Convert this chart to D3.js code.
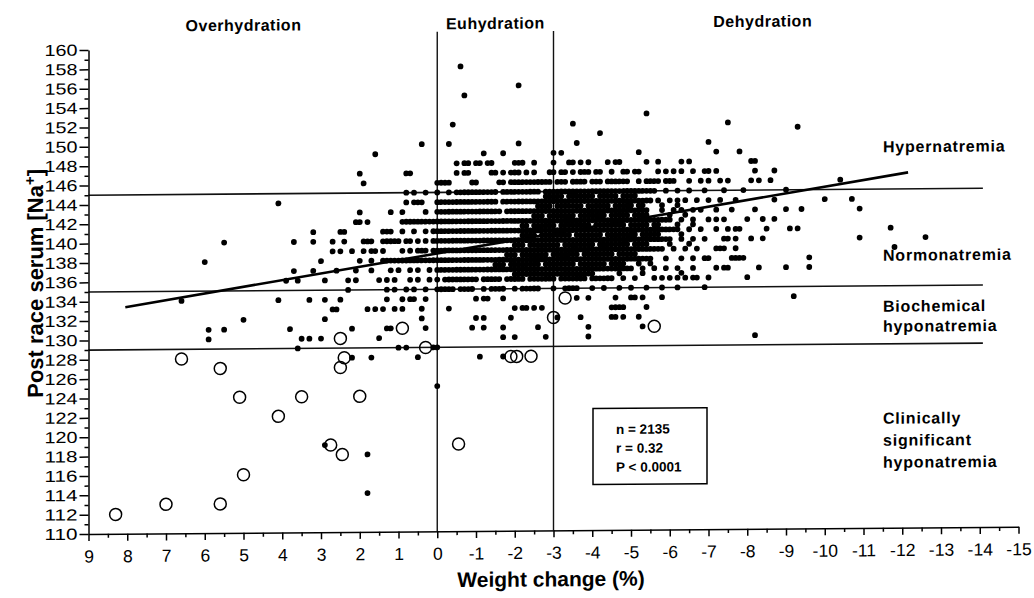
<!DOCTYPE html>
<html>
<head>
<meta charset="utf-8">
<script src="https://cdn.jsdelivr.net/npm/d3@7"></script>
<style>
  body { margin: 0; background: #fff; }
  svg { font-family: "Liberation Sans", Arial, Helvetica, sans-serif; }
</style>
</head>
<body>
<div id="chart"></div>
<script>
// ---- data ----
// x = weight change (%), y = post race serum [Na+]
const xTicks = [9, 8, 7, 6, 5, 4, 3, 2, 1, 0, -1, -2, -3, -4, -5, -6, -7, -8, -9, -10, -11, -12, -13, -14, -15];
const yTicks = [110, 112, 114, 116, 118, 120, 122, 124, 126, 128, 130, 132, 134, 136, 138, 140, 142, 144, 146, 148, 150, 152, 154, 156, 158, 160];

const zoneLabels = ["Overhydration", "Euhydration", "Dehydration"];
const zoneCenters = [5, -1.5, -8.4];
const hydrationLimits = [0, -3];        // vertical lines
const sodiumLimits = [145, 135, 129];   // horizontal lines

// regression line end points [weight, Na]
const fitLine = [[8.05, 133.4], [-12.15, 146.7]];

// runners with clinically significant hyponatremia (open circles)
const hypoWeight = [6.6, 5.6, 5.1, 3.5, 2.0, 2.5, 2.4, 2.5, 0.9, 0.3, -1.9, -2.05, -2.42, -3.3, -3.0, -5.6, 8.3, 7.0, 5.6, 5.0, 4.1, 2.75, 2.45, -0.55];
const hypoNa = [128, 127, 124, 124, 124, 130, 128, 127, 131, 129, 128, 128, 128, 134, 132, 131, 112, 113, 113, 116, 122, 119, 118, 119];

// filled dots: [Na, weight change x 10]
const dotRows = [
  [158, [-6]],
  [156, [-21]],
  [155, [-7]],
  [153, [-54]],
  [152, [-4, -35, -75]],
  [151.5, [-93]],
  [151, [-42]],
  [150, [4, -3, -21, -36, -70]],
  [149, [16, -12, -17, -30, -32, -52, -72, -78]],
  [148, [-5, -7, -8, -10, -11, -13, -14, -20, -21, -22, -25, -30, -34, -35, -37, -39, -44, -46, -47, -54, -57, -63, -65, -81, -82]],
  [147, [20, 8, 7, -5, -7, -8, -14, -15, -17, -19, -20, -21, -23, -25, -29, -30, -32, -33, -35, -37, -38, -39, -41, -42, -45, -48, -49, -51, -52, -57, -59, -61, -63, -66, -69, -70, -72, -82, -87]],
  [146, [19, 0, -1, -2, -3, -9, -10, -16, -17, -19, -20, -21, -22, -23, -24, -25, -26, -27, -28, -29, -31, -32, -33, -35, -36, -37, -38, -40, -41, -42, -44, -45, -46, -47, -48, -49, -52, -54, -55, -56, -57, -59, -60, -61, -65, -68, -70, -73, -75, -81, -83, -86, -104]],
  [145, [8, 6, 3, 0, -3, -5, -6, -7, -8, -9, -10, -11, -12, -13, -14, -15, -17, -18, -19, -20, -21, -22, -23, -24, -25, -26, -28, -29, -30, -31, -32, -33, -34, -35, -36, -37, -38, -39, -40, -41, -42, -43, -44, -45, -46, -47, -48, -49, -50, -51, -52, -53, -54, -55, -56, -59, -62, -65, -69, -74, -79, -90]],
  [144.5, [-28, -29, -30, -31, -32, -34, -35, -36, -37, -38, -39, -40, -42, -43, -44, -45, -46, -48, -49, -50, -51]],
  [144, [41, 8, 6, 5, 4, 0, -1, -2, -3, -4, -5, -6, -7, -8, -9, -10, -11, -12, -13, -14, -15, -17, -18, -19, -20, -21, -22, -23, -24, -25, -26, -27, -28, -29, -30, -31, -32, -33, -34, -35, -36, -37, -38, -39, -40, -41, -42, -43, -44, -45, -46, -47, -48, -49, -50, -51, -52, -53, -54, -55, -57, -60, -62, -64, -67, -70, -73, -77, -87, -100, -107]],
  [143.5, [-26, -27, -28, -29, -31, -32, -33, -34, -35, -36, -37, -39, -40, -41, -42, -43, -44, -46, -47, -48, -49, -50, -52, -53, -58, -62]],
  [143, [20, 12, 9, 3, 0, -1, -2, -3, -4, -5, -6, -7, -8, -9, -10, -11, -12, -13, -14, -15, -16, -18, -19, -20, -21, -22, -23, -24, -25, -26, -27, -28, -29, -30, -31, -32, -33, -34, -35, -36, -37, -38, -39, -40, -41, -42, -43, -44, -45, -46, -47, -48, -49, -50, -51, -52, -53, -54, -58, -61, -63, -66, -68, -72, -76, -82, -90, -94, -109]],
  [142.5, [-25, -26, -27, -29, -30, -31, -32, -33, -34, -35, -37, -38, -39, -40, -41, -42, -43, -45, -46, -47, -48, -49, -51, -52, -53, -54, -60, -64]],
  [142, [21, 20, 18, 9, 8, 7, 6, 5, 4, 3, 2, 1, 0, -1, -2, -3, -4, -5, -6, -7, -8, -9, -10, -11, -12, -13, -14, -15, -16, -17, -18, -19, -20, -21, -22, -23, -24, -25, -26, -27, -28, -29, -30, -31, -32, -33, -34, -35, -36, -37, -38, -39, -40, -41, -42, -43, -44, -45, -46, -47, -48, -49, -50, -51, -52, -53, -54, -55, -56, -57, -58, -59, -60, -63, -66, -70, -72, -74, -80, -84, -87]],
  [141.5, [-22, -23, -25, -26, -27, -28, -29, -30, -32, -33, -34, -35, -36, -37, -38, -39, -41, -42, -43, -44, -45, -46, -47, -48, -50, -51, -52, -53, -54, -56, -57, -62, -66]],
  [141, [32, 25, 24, 14, 13, 12, 9, 6, 3, 1, 0, -1, -2, -3, -4, -5, -6, -7, -8, -9, -10, -11, -12, -13, -14, -15, -16, -17, -18, -19, -20, -21, -22, -23, -24, -25, -26, -27, -28, -29, -30, -31, -32, -33, -34, -35, -36, -37, -38, -39, -40, -41, -42, -43, -44, -45, -46, -47, -48, -49, -50, -51, -52, -53, -54, -55, -56, -57, -58, -59, -60, -61, -62, -65, -68, -72, -75, -77, -78, -85, -91, -93, -117]],
  [140.5, [-22, -23, -24, -25, -27, -28, -29, -30, -31, -32, -33, -34, -36, -37, -38, -39, -40, -41, -42, -44, -45, -46, -47, -48, -49, -50, -51, -53, -54, -55, -56, -57, -63]],
  [140, [55, 37, 32, 27, 24, 19, 18, 17, 14, 13, 12, 11, 10, 8, 7, 5, 3, 1, 0, -1, -2, -3, -4, -5, -6, -7, -8, -9, -10, -11, -12, -13, -14, -15, -16, -17, -18, -19, -20, -21, -22, -23, -24, -25, -26, -27, -28, -29, -30, -31, -32, -33, -34, -35, -36, -37, -38, -39, -40, -41, -42, -43, -44, -45, -46, -47, -48, -49, -50, -51, -52, -53, -54, -55, -56, -57, -58, -59, -60, -63, -66, -69, -74, -75, -77, -81, -84, -109, -126]],
  [139.5, [-20, -21, -22, -24, -25, -26, -27, -28, -29, -30, -31, -33, -34, -35, -36, -37, -38, -39, -40, -42, -43, -44, -45, -46, -47, -48, -49, -51, -52, -53, -54, -60, -65]],
  [139, [27, 25, 22, 19, 17, 16, 14, 9, 7, 5, 4, 3, 1, 0, -1, -2, -3, -4, -5, -6, -7, -8, -9, -10, -11, -12, -13, -14, -15, -16, -17, -18, -19, -20, -21, -22, -23, -24, -25, -26, -27, -28, -29, -30, -31, -32, -33, -34, -35, -36, -37, -38, -39, -40, -41, -42, -43, -44, -45, -46, -47, -48, -49, -50, -51, -52, -53, -54, -55, -56, -57, -58, -61, -64, -67, -72, -73, -74, -77, -118]],
  [138.5, [-18, -19, -20, -22, -23, -24, -25, -26, -27, -28, -30, -31, -32, -33, -34, -35, -36, -38, -39, -40, -41, -42, -43, -44, -45, -47, -48, -49, -50, -51]],
  [138, [60, 30, 20, 17, 14, 13, 12, 11, 10, 9, 8, 7, 6, 5, 4, 3, 2, 1, 0, -1, -2, -3, -4, -5, -6, -7, -8, -9, -10, -11, -12, -13, -14, -15, -16, -17, -18, -19, -20, -21, -22, -23, -24, -25, -26, -27, -28, -29, -30, -31, -32, -33, -34, -35, -36, -37, -38, -39, -40, -41, -42, -43, -44, -45, -46, -47, -48, -49, -50, -51, -52, -53, -54, -55, -59, -63, -66, -69, -70, -76, -77, -78, -79, -96]],
  [137.5, [-15, -16, -17, -19, -20, -21, -22, -23, -24, -25, -26, -28, -29, -30, -31, -32, -33, -34, -35, -37, -38, -39, -40, -41, -42, -43, -45, -46, -47, -48, -52, -55]],
  [137, [37, 32, 26, 21, 17, 12, 10, 7, 5, 2, 0, -1, -2, -3, -4, -5, -6, -7, -8, -9, -10, -11, -12, -13, -14, -15, -16, -17, -18, -19, -20, -21, -22, -23, -24, -25, -26, -27, -28, -29, -30, -31, -32, -33, -34, -35, -36, -37, -38, -39, -40, -41, -42, -43, -44, -45, -46, -47, -48, -49, -50, -53, -56, -59, -62, -66, -72, -74, -75, -83, -90, -96]],
  [136.5, [-20, -21, -22, -23, -24, -25, -26, -27, -28, -29, -30, -31, -32, -33, -34, -35, -36, -37, -38, -39, -40, -47, -53, -63]],
  [136, [39, 36, 29, 23, 21, 15, 13, 11, 7, 5, 2, 0, -2, -3, -4, -5, -6, -7, -8, -9, -10, -12, -13, -14, -15, -16, -18, -19, -20, -21, -22, -24, -25, -26, -27, -28, -29, -30, -32, -33, -34, -35, -36, -37, -38, -40, -41, -42, -43, -44, -45, -48, -51, -56, -58, -60, -62, -64, -66, -67, -70, -80]],
  [135, [23, 13, 11, 8, 6, 3, 0, -1, -2, -3, -4, -6, -7, -8, -9, -12, -14, -15, -16, -17, -20, -22, -23, -24, -25, -26, -30, -33, -34, -35, -36, -40, -43, -47, -50, -54, -58, -62, -69]],
  [134, [66, 41, 33, 29, 25, 13, 9, 7, 6, 3, -10, -12, -13, -17, -36, -39, -46, -50, -51, -53, -58, -92]],
  [133, [27, 26, 18, 16, 14, 11, 9, 4, -3, -20, -22, -23, -25, -27, -45, -46, -47, -48, -54]],
  [132, [50, 29, 4, -10, -12, -19, -31, -37, -45, -46, -48, -52]],
  [131, [59, 55, 38, 22, 13, 12, 3, -9, -12, -17, -26, -39, -53]],
  [130, [59, 35, 33, 30, 15, -17, -20, -28, -39, -82]],
  [129, [36, 10, 8, 1, 0]],
  [128, [22, 17, 5, -11, -17]],
  [125, [0]],
  [119, [29]],
  [118, [18]],
  [114, [18]]
];

// ---- layout ----
const width = 1034, height = 598;
const skew = 0.0078; // the scanned figure is slightly sheared

const svg = d3.select("#chart").append("svg")
  .attr("width", width)
  .attr("height", height);

const g = svg.append("g")
  .attr("transform", "matrix(1," + (-skew) + ",0,1,0," + (skew * 88) + ")");

const x = d3.scaleLinear().domain([9, -15]).range([88.5, 1018.5]);
const y = d3.scaleLinear().domain([110, 160]).range([534, 50]);

// reference lines
g.selectAll(".hline")
  .data(sodiumLimits)
  .enter().append("line")
    .attr("x1", x(9)).attr("x2", x(-14.08))
    .attr("y1", d => y(d)).attr("y2", d => y(d))
    .attr("stroke", "#111").attr("stroke-width", 1.6);

g.selectAll(".vline")
  .data(hydrationLimits)
  .enter().append("line")
    .attr("x1", d => x(d)).attr("x2", d => x(d))
    .attr("y1", y(110)).attr("y2", y(161.6))
    .attr("stroke", "#111").attr("stroke-width", 1.4);

// filled dots
const dots = dotRows.flatMap(([na, ws]) => ws.map(w10 => ({ w: w10 / 10, na: na })));

g.selectAll(".dot")
  .data(dots)
  .enter().append("circle")
    .attr("cx", d => x(d.w))
    .attr("cy", d => y(d.na))
    .attr("r", 2.9)
    .attr("fill", "#000");

// open circles
g.selectAll(".hypo")
  .data(hypoWeight.map((w, i) => ({ w: w, na: hypoNa[i] })))
  .enter().append("circle")
    .attr("cx", d => x(d.w))
    .attr("cy", d => y(d.na))
    .attr("r", 6)
    .attr("fill", "none")
    .attr("stroke", "#000")
    .attr("stroke-width", 1.5);

// regression line
g.append("path")
  .datum(fitLine)
  .attr("d", d3.line().x(d => x(d[0])).y(d => y(d[1])))
  .attr("fill", "none")
  .attr("stroke", "#000")
  .attr("stroke-width", 2.6);

// y axis
const yAxis = g.append("g")
  .attr("transform", "translate(" + x(9) + ",0)")
  .call(d3.axisLeft(y).tickValues(yTicks).tickSize(9).tickPadding(2).tickSizeOuter(0).tickFormat(d => String(d)));
g.append("g")
  .attr("transform", "translate(" + x(9) + ",0)")
  .call(d3.axisLeft(y).tickValues(yTicks.slice(1).map(v => v - 1)).tickSize(4).tickFormat(""))
  .select(".domain").remove();

// x axis
const xAxis = g.append("g")
  .attr("transform", "translate(0," + y(110) + ")")
  .call(d3.axisBottom(x).tickValues(xTicks).tickSize(7).tickPadding(9).tickSizeOuter(0).tickFormat(d => String(d)));
g.append("g")
  .attr("transform", "translate(0," + y(110) + ")")
  .call(d3.axisBottom(x).tickValues(xTicks.slice(1).map(v => v + 0.5)).tickSize(4).tickFormat(""))
  .select(".domain").remove();

g.selectAll(".domain, .tick line").attr("stroke", "#000").attr("stroke-width", 1.5);
yAxis.selectAll("text")
  .attr("font-family", null)
  .attr("font-size", 16)
  .attr("textLength", 33)
  .attr("lengthAdjust", "spacingAndGlyphs")
  .attr("fill", "#000");
xAxis.selectAll("text").attr("font-family", null).attr("font-size", 17.5).attr("fill", "#000");
g.selectAll("g").attr("font-family", null);

// axis titles
const yTitle = g.append("text")
  .attr("transform", "translate(43,283) rotate(-90)")
  .attr("text-anchor", "middle")
  .style("font-size", "22px")
  .style("font-weight", "bold");
yTitle.append("tspan").text("Post race serum [Na");
yTitle.append("tspan").attr("baseline-shift", "super").style("font-size", "15px").text("+");
yTitle.append("tspan").text("]");

g.append("text")
  .attr("x", 551).attr("y", 590)
  .attr("text-anchor", "middle")
  .style("font-size", "21px")
  .style("font-weight", "bold")
  .text("Weight change (%)");

// zone labels
g.selectAll(".zone")
  .data(zoneLabels)
  .enter().append("text")
    .attr("x", (d, i) => x(zoneCenters[i]))
    .attr("y", 32)
    .attr("text-anchor", "middle")
    .style("font-size", "16px")
    .style("font-weight", "bold")
    .style("letter-spacing", "0.5px")
    .text(d => d);

// sodium band labels
const bandLines = ["Hypernatremia", "Normonatremia", "Biochemical", "hyponatremia", "Clinically", "significant", "hyponatremia"];
const bandBaselines = [158.5, 267, 318, 338, 430, 452, 474];
g.selectAll(".band")
  .data(bandLines)
  .enter().append("text")
    .attr("x", 883)
    .attr("y", (d, i) => bandBaselines[i])
    .style("font-size", "16px")
    .style("font-weight", "bold")
    .style("letter-spacing", "0.8px")
    .text(d => d);

// stats box
const statsLines = ["n = 2135", "r = 0.32", "P < 0.0001"];
g.append("rect")
  .attr("x", 593).attr("y", 412.5)
  .attr("width", 114).attr("height", 76)
  .attr("fill", "none").attr("stroke", "#000").attr("stroke-width", 1.5);
g.selectAll(".stat")
  .data(statsLines)
  .enter().append("text")
    .attr("x", 616)
    .attr("y", (d, i) => 438 + i * 19)
    .style("font-size", "13.5px")
    .style("font-weight", "bold")
    .text(d => d);
</script>
</body>
</html>
